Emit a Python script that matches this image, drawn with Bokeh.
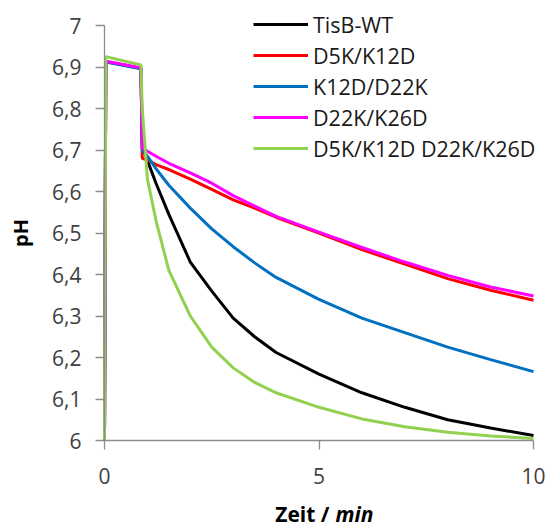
from bokeh.plotting import figure
from bokeh.models import (Range1d, FixedTicker, CustomJSTickFormatter, Legend, LegendItem,
                          Label, ColumnDataSource)
from bokeh.embed import file_html
from bokeh.resources import INLINE

# ---- data ----
time_min = [0, 0.03, 0.85, 0.88, 1.0, 1.2, 1.5, 2.0, 2.5, 3.0, 3.5, 4.0, 5.0, 6.0, 7.0, 8.0, 9.0, 10.0]

ph_tisb_wt = [6.0, 6.913, 6.897, 6.715, 6.675, 6.62, 6.545, 6.43, 6.36, 6.295, 6.25, 6.212, 6.16, 6.115, 6.08, 6.05, 6.03, 6.012]
ph_d5k_k12d = [6.0, 6.913, 6.897, 6.68, 6.676, 6.665, 6.653, 6.63, 6.605, 6.58, 6.56, 6.538, 6.5, 6.46, 6.425, 6.39, 6.362, 6.338]
ph_k12d_d22k = [6.0, 6.912, 6.896, 6.70, 6.685, 6.655, 6.615, 6.56, 6.51, 6.467, 6.428, 6.393, 6.34, 6.295, 6.26, 6.225, 6.195, 6.166]
ph_d22k_k26d = [6.0, 6.914, 6.898, 6.705, 6.697, 6.685, 6.668, 6.645, 6.62, 6.59, 6.565, 6.54, 6.502, 6.465, 6.43, 6.398, 6.37, 6.348]
ph_double = [6.0, 6.925, 6.905, 6.80, 6.63, 6.53, 6.41, 6.30, 6.225, 6.175, 6.14, 6.115, 6.08, 6.052, 6.033, 6.02, 6.011, 6.005]

series_names = ["TisB-WT", "D5K/K12D", "K12D/D22K", "D22K/K26D", "D5K/K12D D22K/K26D"]
series_values = [ph_tisb_wt, ph_d5k_k12d, ph_k12d_d22k, ph_d22k_k26d, ph_double]
series_colors = ["#000000", "#FF0000", "#0070C0", "#FF00FF", "#92D050"]

y_ticks = [6.0, 6.1, 6.2, 6.3, 6.4, 6.5, 6.6, 6.7, 6.8, 6.9, 7.0]
x_ticks = [0, 5, 10]

FONT = "Open Sans"
AXIS_COLOR = "#8C8C8C"
TEXT_COLOR = "#404040"

W, H = 555, 529
# plot area in pixels: x 0..10 -> 104..533, pH 6..7 -> 440..25
px_per_x = (533 - 104) / 10.0
px_per_y = (440 - 25) / 1.0
x_start = 0 - 104 / px_per_x
x_end = 10 + (W - 533) / px_per_x
y_start = 6 - (H - 440) / px_per_y
y_end = 7 + 25 / px_per_y

p = figure(width=W, height=H, output_backend="svg", toolbar_location=None,
           x_range=Range1d(x_start, x_end), y_range=Range1d(y_start, y_end),
           min_border_left=0, min_border_right=0, min_border_top=0, min_border_bottom=0)
p.outline_line_color = None
p.xgrid.visible = False
p.ygrid.visible = False
p.background_fill_color = "white"
p.border_fill_color = "white"

items = []
for name, vals, col in zip(series_names, series_values, series_colors):
    src = ColumnDataSource(dict(t=time_min, ph=vals))
    r = p.line("t", "ph", source=src, line_color=col, line_width=3)
    items.append(LegendItem(label=name, renderers=[r]))

# axes
for ax in (p.xaxis[0], p.yaxis[0]):
    ax.axis_line_color = AXIS_COLOR
    ax.axis_line_width = 1.3
    ax.major_tick_line_color = AXIS_COLOR
    ax.major_tick_line_width = 1.3
    ax.major_tick_out = 9
    ax.major_tick_in = 0
    ax.minor_tick_line_color = None
    ax.major_label_text_font = FONT
    ax.major_label_text_font_size = "21px"
    ax.major_label_text_color = TEXT_COLOR

p.yaxis.fixed_location = 0
p.yaxis.bounds = (6, 7)
p.yaxis.ticker = FixedTicker(ticks=y_ticks)
p.yaxis.formatter = CustomJSTickFormatter(
    code="var s = (Math.round(tick*10)/10).toString(); return s.replace('.', ',');")
p.yaxis.major_label_standoff = 14
p.yaxis.axis_label = "pH"
p.yaxis.axis_label_text_font = FONT
p.yaxis.axis_label_text_font_style = "bold"
p.yaxis.axis_label_text_font_size = "20px"
p.yaxis.axis_label_text_color = "#000000"
p.yaxis.axis_label_standoff = 15

p.xaxis.fixed_location = 6
p.xaxis.bounds = (0, 10)
p.xaxis.ticker = FixedTicker(ticks=x_ticks)
p.xaxis.major_label_standoff = 18

# x axis title with italic unit
y_title = 6 - (513 - 440) / px_per_y
lab1 = Label(x=(329 - 104) / px_per_x, y=y_title, text="Zeit /", text_font=FONT,
             text_font_size="21px", text_font_style="bold", text_align="right",
             text_baseline="middle", text_color="#000000")
lab2 = Label(x=(335 - 104) / px_per_x, y=y_title, text="min", text_font=FONT,
             text_font_size="21px", text_font_style="bold italic", text_align="left",
             text_baseline="middle", text_color="#000000")
p.add_layout(lab1)
p.add_layout(lab2)

legend = Legend(items=items, location=(253, H - 9 - 154), orientation="vertical",
                label_text_font=FONT, label_text_font_size="21.5px", label_text_color="#1a1a1a",
                glyph_width=55, glyph_height=30, label_height=30, label_standoff=5,
                spacing=1, padding=0, margin=0,
                border_line_color=None, background_fill_alpha=0)
p.add_layout(legend, "center")

open("out.html", "w").write(file_html(p, INLINE))
